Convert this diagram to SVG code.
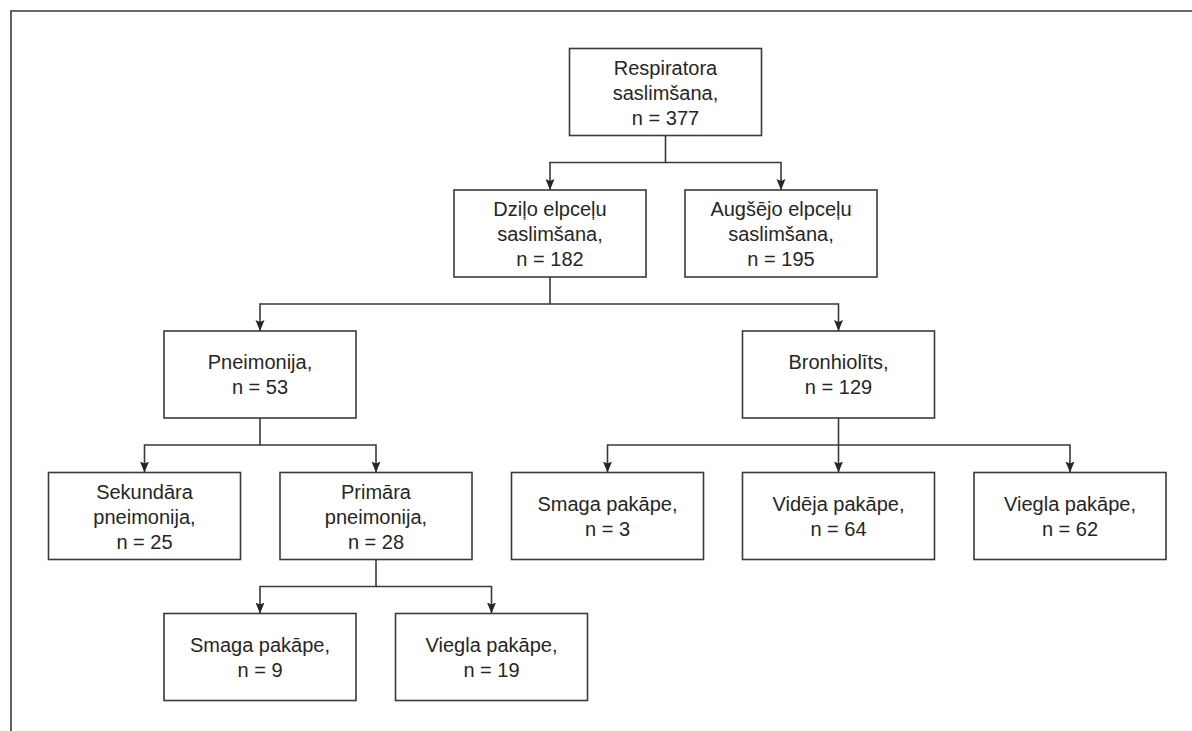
<svg xmlns="http://www.w3.org/2000/svg" width="1192" height="731" viewBox="0 0 1192 731">
<defs>
<style>
.box rect{fill:#fff;stroke:#3a3a3a;stroke-width:1.6}
.box text{font-family:"Liberation Sans",Arial,sans-serif;font-size:20px;fill:#262626;text-anchor:middle}
.conn path{fill:none;stroke:#3a3a3a;stroke-width:1.6;marker-end:url(#ah)}
.frame{fill:none;stroke:#3a3a3a;stroke-width:1.6}
</style>
<marker id="ah" markerUnits="userSpaceOnUse" markerWidth="12" markerHeight="12" viewBox="0 0 12 12" refX="11" refY="6" orient="auto">
<path d="M0 1.5 L11 6 L0 10.5 L2 6 Z" fill="#262626"/>
</marker>
</defs>
<rect width="1192" height="731" fill="#fff"/>
<path class="frame" d="M11 731 V11 H1192"/>
<g class="conn" id="connectors">
<path d="M665.5 135.5 V162.5 H550 V190"/>
<path d="M665.5 162.5 H781 V190"/>
<path d="M550 277 V304 H260 V331"/>
<path d="M550 304 H838.5 V331"/>
<path d="M260 418 V445 H144.5 V472.5"/>
<path d="M260 445 H376 V472.5"/>
<path d="M838.5 418 V445 H607.5 V472.5"/>
<path d="M838.5 445 V472.5"/>
<path d="M838.5 445 H1070 V472.5"/>
<path d="M376 559.5 V586.5 H260 V613.5"/>
<path d="M376 586.5 H491.5 V613.5"/>
</g>
<g class="box" id="n-root">
<rect x="569.5" y="48.5" width="192" height="87"/>
<text x="665.5" y="74.5">Respiratora</text>
<text x="665.5" y="99.5">saslimšana,</text>
<text x="665.5" y="124.5">n = 377</text>
</g>
<g class="box" id="n-dzilo">
<rect x="454" y="190" width="192" height="87"/>
<text x="550" y="216">Dziļo elpceļu</text>
<text x="550" y="241">saslimšana,</text>
<text x="550" y="266">n = 182</text>
</g>
<g class="box" id="n-augsejo">
<rect x="685" y="190" width="192" height="87"/>
<text x="781" y="216">Augšējo elpceļu</text>
<text x="781" y="241">saslimšana,</text>
<text x="781" y="266">n = 195</text>
</g>
<g class="box" id="n-pneimonija">
<rect x="164" y="331" width="192" height="87"/>
<text x="260" y="369">Pneimonija,</text>
<text x="260" y="394">n = 53</text>
</g>
<g class="box" id="n-bronhiolits">
<rect x="742.5" y="331" width="192" height="87"/>
<text x="838.5" y="369">Bronhiolīts,</text>
<text x="838.5" y="394">n = 129</text>
</g>
<g class="box" id="n-sekundara">
<rect x="48.5" y="472.5" width="192" height="87"/>
<text x="144.5" y="498.5">Sekundāra</text>
<text x="144.5" y="523.5">pneimonija,</text>
<text x="144.5" y="548.5">n = 25</text>
</g>
<g class="box" id="n-primara">
<rect x="280" y="472.5" width="192" height="87"/>
<text x="376" y="498.5">Primāra</text>
<text x="376" y="523.5">pneimonija,</text>
<text x="376" y="548.5">n = 28</text>
</g>
<g class="box" id="n-b-smaga">
<rect x="511.5" y="472.5" width="192" height="87"/>
<text x="607.5" y="510.5">Smaga pakāpe,</text>
<text x="607.5" y="535.5">n = 3</text>
</g>
<g class="box" id="n-b-videja">
<rect x="742.5" y="472.5" width="192" height="87"/>
<text x="838.5" y="510.5">Vidēja pakāpe,</text>
<text x="838.5" y="535.5">n = 64</text>
</g>
<g class="box" id="n-b-viegla">
<rect x="974" y="472.5" width="192" height="87"/>
<text x="1070" y="510.5">Viegla pakāpe,</text>
<text x="1070" y="535.5">n = 62</text>
</g>
<g class="box" id="n-p-smaga">
<rect x="164" y="613.5" width="192" height="87"/>
<text x="260" y="651.5">Smaga pakāpe,</text>
<text x="260" y="676.5">n = 9</text>
</g>
<g class="box" id="n-p-viegla">
<rect x="395.5" y="613.5" width="192" height="87"/>
<text x="491.5" y="651.5">Viegla pakāpe,</text>
<text x="491.5" y="676.5">n = 19</text>
</g>
</svg>
